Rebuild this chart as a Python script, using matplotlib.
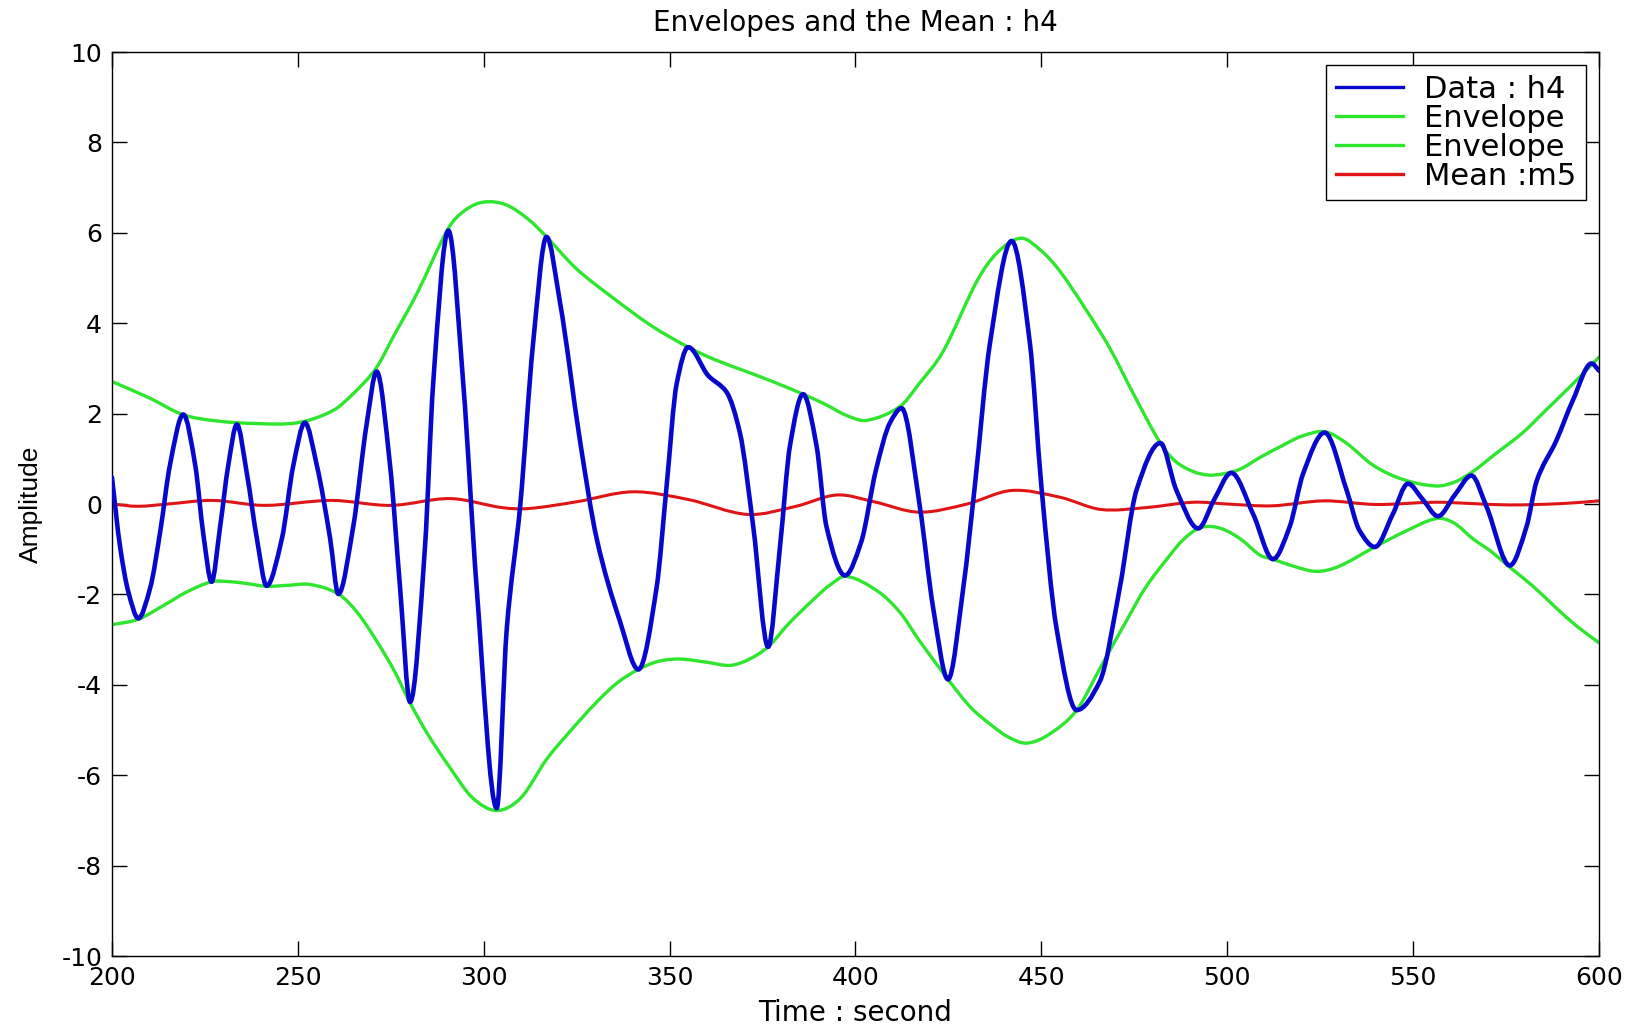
import matplotlib
matplotlib.use("Agg")
import matplotlib.pyplot as plt
from matplotlib.path import Path
from matplotlib.patches import PathPatch
from matplotlib.lines import Line2D

# data
t_data = [200, 202.2, 204.4, 207.1, 210.3, 213, 215.6, 219.2, 222.4, 224.6, 226.8,
          229.1, 231.3, 233.6, 236.3, 239, 241.6, 245.7, 248.8, 251.9, 255.1, 258.7,
          260.9, 264.9, 268.5, 271.2, 274.8, 277.5, 280.2, 284.2, 286.4, 290.5, 294.5,
          298.1, 303.5, 306.2, 309.8, 313.3, 316.9, 320.5, 325.9, 330.4, 336.6, 341.6,
          346.5, 349.2, 351.9, 355, 360.4, 365.3, 368.9, 372.5, 376.5, 379.7, 382.4,
          385.9, 389.5, 392.2, 397.2, 401.5, 405.5, 409.3, 412.4, 417.3, 420.9, 424.9,
          429, 432.1, 436.2, 442, 446.9, 450, 454.1, 459.5, 465.7, 471.1, 475.6, 482,
          486.3, 492.2, 496.5, 501.1, 507, 512.3, 516.8, 520.4, 526.2, 532.1, 535.6,
          539.7, 544.5, 548.6, 552.6, 556.7, 561.2, 565.7, 569.7, 576, 580.5, 583.2,
          588.5, 593, 598, 600]
v_data = [0.59, -0.95, -1.94, -2.53, -1.85, -0.6, 0.86, 1.98, 0.86, -0.68, -1.72,
          -0.5, 0.86, 1.76, 0.67, -0.77, -1.81, -0.77, 0.86, 1.8, 0.86, -0.77,
          -1.99, -0.5, 1.76, 2.93, 0.86, -1.85, -4.38, -0.95, 2.66, 6.05, 2.66,
          -1.85, -6.73, -2.76, -0.05, 3.57, 5.91, 4.47, 1.4, -0.77, -2.58, -3.66,
          -1.85, 0.4, 2.66, 3.47, 2.84, 2.48, 1.58, -0.5, -3.16, -0.94, 1.3,
          2.43, 1.3, -0.5, -1.58, -0.85, 0.75, 1.8, 2.12, -0.05, -2.3, -3.88,
          -1.85, 0.4, 3.57, 5.82, 3.57, 0.4, -2.76, -4.56, -3.93, -1.85, 0.31, 1.35,
          0.31, -0.54, 0.1, 0.69, -0.23, -1.22, -0.5, 0.67, 1.58, 0.31, -0.59,
          -0.95, -0.23, 0.45, 0.1, -0.27, 0.2, 0.63, -0.05, -1.36, -0.5, 0.5,
          1.4, 2.3, 3.11, 2.95]

t_upper = [200, 210, 219, 228, 239, 250, 259.5, 265, 271, 276, 282, 290.5, 295, 300,
           306, 312, 316.9, 325, 334.8, 345, 355, 362, 370.7, 378, 385.9, 392, 397.6,
           403, 412, 417, 423.6, 432.6, 438, 444.5, 450, 455, 462, 468.4, 475,
           482, 486, 490.8, 495, 499, 503.4, 508.8, 515, 520, 526.2, 532, 539.2, 547,
           556, 561, 566.1, 572, 579.5, 586, 593, 600]
v_upper = [2.71, 2.35, 1.98, 1.84, 1.78, 1.8, 2.07, 2.45, 3.0, 3.75, 4.65, 6.1, 6.5,
           6.68, 6.62, 6.3, 5.91, 5.2, 4.56, 3.95, 3.47, 3.2, 2.93, 2.7, 2.43, 2.2,
           1.96, 1.85, 2.16, 2.65, 3.38, 4.92, 5.55, 5.88, 5.6, 5.15, 4.3, 3.45,
           2.4, 1.35, 0.95, 0.72, 0.64, 0.67, 0.77, 1.03, 1.3, 1.5, 1.6, 1.35, 0.86,
           0.55, 0.4, 0.48, 0.72, 1.1, 1.58, 2.1, 2.66, 3.25]

t_lower = [200, 207, 214.8, 220, 226.8, 232, 236.3, 241.6, 247, 253.3, 260.9, 266,
           271.2, 276, 280.2, 285, 290.9, 297, 303.5, 310, 316.9, 323, 330.4, 336,
           341.6, 347, 352.8, 360, 366.2, 371, 376.5, 382, 388.6, 393, 397.5,
           406, 412, 417, 424.9, 431, 437, 441, 446, 452, 459.5, 466, 472.9, 478,
           484.6, 488, 492.2, 496, 499.8, 504, 508.8, 512.3, 518, 524, 530, 539.7,
           548, 556.3, 561, 566.1, 571, 576, 582, 588.5, 594, 600]
v_lower = [-2.67, -2.55, -2.2, -1.95, -1.72, -1.72, -1.76, -1.82, -1.8, -1.78, -1.99,
           -2.4, -3.03, -3.7, -4.4, -5.1, -5.83, -6.5, -6.78, -6.5, -5.65, -5.05,
           -4.38, -3.95, -3.66, -3.48, -3.43, -3.5, -3.57, -3.45, -3.16, -2.65, -2.12,
           -1.8, -1.6, -1.93, -2.4, -3.0, -3.88, -4.5, -4.92, -5.15, -5.29, -5.1,
           -4.56, -3.6, -2.58, -1.85, -1.13, -0.8, -0.54, -0.5, -0.59, -0.8, -1.13,
           -1.22, -1.38, -1.49, -1.38, -0.95, -0.6, -0.32, -0.42, -0.77, -1.05, -1.4,
           -1.8, -2.3, -2.7, -3.07]

t_mean = [200, 207, 215, 227, 241, 259, 275, 291, 305, 312, 325, 340, 355, 371, 384,
          395, 405, 417, 430, 442, 455, 466, 478, 491, 500, 512, 526, 540, 556, 566,
          576, 590, 600]
v_mean = [0.0, -0.05, 0.0, 0.08, -0.03, 0.08, -0.03, 0.12, -0.08, -0.1, 0.05, 0.27,
          0.1, -0.23, -0.05, 0.2, 0.05, -0.18, 0.0, 0.3, 0.15, -0.12, -0.08, 0.04, 0.0,
          -0.04, 0.07, -0.01, 0.04, 0.01, -0.02, 0.01, 0.07]

x_ticks = [200, 250, 300, 350, 400, 450, 500, 550, 600]
y_ticks = [-10, -8, -6, -4, -2, 0, 2, 4, 6, 8, 10]

BLUE = '#0808cc'
GREEN = '#2ee62e'
RED = '#e01414'


def smooth_path(x, y, monotone=True):
    # bezier path through the read points
    n = len(x)
    h = [x[k + 1] - x[k] for k in range(n - 1)]
    dl = [(y[k + 1] - y[k]) / h[k] for k in range(n - 1)]
    d = [0.0] * n
    d[0], d[-1] = dl[0], dl[-1]
    for k in range(1, n - 1):
        if not monotone:
            d[k] = (y[k + 1] - y[k - 1]) / (x[k + 1] - x[k - 1])
        elif dl[k - 1] * dl[k] <= 0:
            d[k] = 0.0
        else:
            w1 = 2 * h[k] + h[k - 1]
            w2 = h[k] + 2 * h[k - 1]
            d[k] = (w1 + w2) / (w1 / dl[k - 1] + w2 / dl[k])
    verts = [(x[0], y[0])]
    codes = [Path.MOVETO]
    for k in range(n - 1):
        verts += [(x[k] + h[k] / 3, y[k] + d[k] * h[k] / 3),
                  (x[k + 1] - h[k] / 3, y[k + 1] - d[k + 1] * h[k] / 3),
                  (x[k + 1], y[k + 1])]
        codes += [Path.CURVE4] * 3
    return Path(verts, codes)


plt.rcParams['font.family'] = ['DejaVu Sans']
plt.rcParams['axes.unicode_minus'] = False

fig = plt.figure(figsize=(16.39, 10.28), dpi=100)
ax = fig.add_axes([0.0683, 0.07, 0.9073, 0.8794])

series = [(t_upper, v_upper, GREEN, 2.4, 2, False),
          (t_lower, v_lower, GREEN, 2.4, 2, False),
          (t_mean, v_mean, RED, 2.2, 2, False),
          (t_data, v_data, BLUE, 3.3, 3, True)]
for xs, ys, col, lw, z, mono in series:
    ax.add_patch(PathPatch(smooth_path(xs, ys, mono), fill=False, edgecolor=col,
                           lw=lw, zorder=z, capstyle='round', joinstyle='round'))

ax.set_xlim(200, 600)
ax.set_ylim(-10, 10)
ax.set_xticks(x_ticks)
ax.set_yticks(y_ticks)
ax.tick_params(direction='in', length=11, width=1, labelsize=18,
               top=True, right=True, pad=7)
for s in ax.spines.values():
    s.set_linewidth(1)

ax.set_title('Envelopes and the Mean : h4', fontsize=20, pad=15)
ax.set_xlabel('Time : second', fontsize=20, labelpad=7)
ax.set_ylabel('Amplitude', fontsize=19, labelpad=13, family='Liberation Sans')

handles = [Line2D([], [], color=BLUE, lw=2.4, label='Data : h4'),
           Line2D([], [], color=GREEN, lw=2.4, label='Envelope'),
           Line2D([], [], color=GREEN, lw=2.4, label='Envelope'),
           Line2D([], [], color=RED, lw=2.4, label='Mean :m5')]
leg = ax.legend(handles=handles, loc='upper right', fontsize=22, fancybox=False,
                framealpha=1, edgecolor='black', borderaxespad=0.42,
                handlelength=2.2, handletextpad=0.7, labelspacing=0.0,
                borderpad=0.32)
leg.get_frame().set_linewidth(1)

fig.savefig('out.png', dpi=100)
